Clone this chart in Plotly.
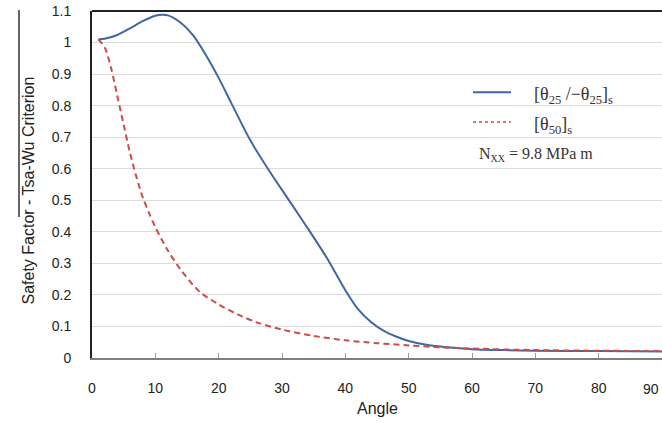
import plotly.graph_objects as go

# Data
angle_a = [1, 2, 4, 6, 8, 10, 11, 12, 14, 16, 18, 20, 22, 25, 28, 31, 34, 37, 40,
           42, 44, 46, 48, 50, 53, 56, 60, 65, 70, 80, 90]
sf_a = [1.01, 1.012, 1.024, 1.045, 1.068, 1.085, 1.088, 1.086, 1.063, 1.022, 0.96,
        0.888, 0.808, 0.69, 0.593, 0.503, 0.413, 0.32, 0.215, 0.155, 0.115, 0.087,
        0.068, 0.054, 0.041, 0.034, 0.028, 0.025, 0.023, 0.022, 0.021]

angle_b = [1, 2, 3, 4, 5, 6, 7, 8, 9, 10, 12, 14, 17, 20, 23, 26, 30, 35, 40, 45,
           50, 55, 60, 70, 80, 90]
sf_b = [1.01, 0.985, 0.92, 0.83, 0.74, 0.65, 0.575, 0.51, 0.46, 0.415, 0.34, 0.28,
        0.21, 0.17, 0.138, 0.113, 0.09, 0.07, 0.056, 0.047, 0.04, 0.034, 0.03,
        0.025, 0.023, 0.022]

x_ticks = [0, 10, 20, 30, 40, 50, 60, 70, 80]
last_x_label = "90"
y_ticks = [0, 0.1, 0.2, 0.3, 0.4, 0.5, 0.6, 0.7, 0.8, 0.9, 1, 1.1]
y_ticktext = ["0", "0.1", "0.2", "0.3", "0.4", "0.5", "0.6", "0.7", "0.8", "0.9", "1", "1.1"]

BLUE = "#3e67a8"
RED = "#cc4c48"

fig = go.Figure()
fig.add_trace(go.Scatter(x=angle_a, y=sf_a, mode="lines",
                         line=dict(color=BLUE, width=2, shape="spline", smoothing=0.7),
                         showlegend=False))
fig.add_trace(go.Scatter(x=angle_b, y=sf_b, mode="lines",
                         line=dict(color=RED, width=2, dash="6px,4px", shape="spline", smoothing=0.8),
                         showlegend=False))

tick_font = dict(family="Liberation Sans, Arial, sans-serif", size=14, color="#222")

fig.update_layout(
    width=662, height=423,
    margin=dict(l=92, r=0, t=11, b=65),
    paper_bgcolor="white", plot_bgcolor="white",
    xaxis=dict(range=[0, 90], tickvals=x_ticks, ticks="inside", ticklen=5,
               tickcolor="#999", showgrid=False, showline=True, linecolor="#7f7f7f",
               linewidth=1.5, tickfont=tick_font, ticklabelstandoff=16, zeroline=False),
    yaxis=dict(range=[0, 1.1], tickvals=y_ticks, ticktext=y_ticktext, ticks="",
               showgrid=True, gridcolor="#dcdcdc", gridwidth=1, showline=True,
               linecolor="#222", linewidth=2, tickfont=tick_font, ticklabelstandoff=16,
               zeroline=False),
    showlegend=False,
)

# last x tick label, pulled inward as in the reference
fig.add_annotation(text=last_x_label, xref="paper", yref="paper",
                   x=(651 - 92) / 570, y=(358 - 389) / 347, showarrow=False,
                   xanchor="center", yanchor="middle", font=tick_font)

# top frame line
fig.add_shape(type="line", xref="paper", yref="paper", x0=0, x1=1, y0=1, y1=1,
              line=dict(color="#222", width=2))
# stray vertical line at far left
fig.add_shape(type="line", xref="paper", yref="paper",
              x0=(19 - 92) / 570, x1=(19 - 92) / 570,
              y0=(358 - 217) / 347, y1=(358 - 10) / 347,
              line=dict(color="#333", width=1.5))

# axis titles
title_font = dict(family="Liberation Sans, Arial, sans-serif", size=16, color="#222")
fig.add_annotation(text="Safety Factor - Tsa-Wu Criterion", xref="paper", yref="paper",
                   x=(28 - 92) / 570, y=0.5, yshift=-6, textangle=-90, showarrow=False,
                   xanchor="center", yanchor="middle", font=title_font)
fig.add_annotation(text="Angle", xref="paper", yref="paper", x=0.5, y=(358 - 408) / 347,
                   showarrow=False, xanchor="center", yanchor="middle", font=title_font)

# custom legend
fig.add_shape(type="line", xref="paper", yref="paper",
              x0=(473 - 92) / 570, x1=(511 - 92) / 570,
              y0=(358 - 92.3) / 347, y1=(358 - 92.3) / 347,
              line=dict(color=BLUE, width=2))
fig.add_shape(type="line", xref="paper", yref="paper",
              x0=(473 - 92) / 570, x1=(511 - 92) / 570,
              y0=(358 - 122) / 347, y1=(358 - 122) / 347,
              line=dict(color=RED, width=1.5, dash="dot"))
leg_font = dict(family="Liberation Serif, Times New Roman, serif", size=18, color="#333")
fig.add_annotation(text="[θ<sub>25</sub> /−θ<sub>25</sub>]<sub>s</sub>", xref="paper", yref="paper",
                   x=(532 - 92) / 570, y=(358 - 95) / 347, showarrow=False,
                   xanchor="left", yanchor="middle", font=leg_font)
fig.add_annotation(text="[θ<sub>50</sub>]<sub>s</sub>", xref="paper", yref="paper",
                   x=(532 - 92) / 570, y=(358 - 125) / 347, showarrow=False,
                   xanchor="left", yanchor="middle", font=leg_font)
fig.add_annotation(text="N<sub><span style='font-size:10px'>XX</span></sub> = 9.8 MPa m",
                   xref="paper", yref="paper",
                   x=(477 - 92) / 570, y=(358 - 154) / 347, showarrow=False,
                   xanchor="left", yanchor="middle",
                   font=dict(family="Liberation Serif, Times New Roman, serif", size=16, color="#333"))

fig.write_html("out.html", config={"displayModeBar": False},
               post_script="document.body.style.margin='0';")
